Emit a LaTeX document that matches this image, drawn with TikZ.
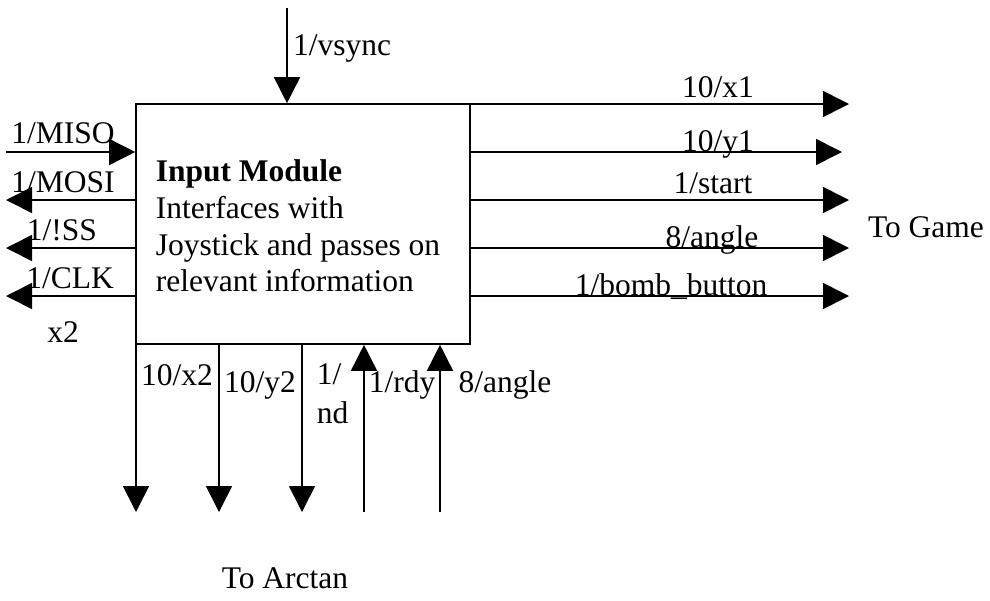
\documentclass[tikz,border=0pt]{standalone}
\usepackage{fontspec}
\setmainfont{Liberation Serif}
\usetikzlibrary{arrows.meta}
\begin{document}
\begin{tikzpicture}[x=0.5pt,y=-0.5pt,line width=0.8pt,
  sig/.style={-{Triangle[length=13pt,width=13pt]}},
  lbl/.style={inner sep=0pt,anchor=base,font=\fontsize{15.75}{18}\selectfont},
  lblw/.style={lbl,anchor=base west}]
\useasboundingbox (0,0) rectangle (990,600);

% the module block
\node[draw,minimum width=167pt,minimum height=120pt,inner sep=0pt] (box) at (303,224) {};
\node[lblw,font=\fontsize{15.75}{18}\selectfont\bfseries] (l1) at (155,181) {Input Module};
\node[lblw] (l2) at (155,218) {Interfaces with};
\node[lblw] (l3) at (155,255) {Joystick and passes on};
\node[lblw] (l4) at (155,291) {relevant information};

% top input
\coordinate (vs) at (287,8);
\draw[sig] (vs) -- (vs |- box.north);
\node[lbl] (tvs) at (342,55) {1/vsync};

% SPI side (left)
\coordinate (miso) at (6,152);
\coordinate (mosi) at (6,200);
\coordinate (ss) at (6,248);
\coordinate (clk) at (6,296);
\draw[sig] (miso) -- (miso -| box.west);
\draw[sig] (mosi -| box.west) -- (mosi);
\draw[sig] (ss -| box.west) -- (ss);
\draw[sig] (clk -| box.west) -- (clk);
\node[lbl] (tmiso) at (63,143) {1/MISO};
\node[lbl] (tmosi) at (63,192) {1/MOSI};
\node[lbl] (tss) at (62,240) {1/!SS};
\node[lbl] (tclk) at (70,288) {1/CLK};
\node[lbl] (tx2) at (63,342) {x2};

% outputs to the game (right)
\coordinate (ox) at (849,104);
\coordinate (oy) at (842,152);
\coordinate (ost) at (849,200);
\coordinate (oan) at (849,248);
\coordinate (obb) at (849,296);
\draw[sig] (ox -| box.east) -- (ox);
\draw[sig] (oy -| box.east) -- (oy);
\draw[sig] (ost -| box.east) -- (ost);
\draw[sig] (oan -| box.east) -- (oan);
\draw[sig] (obb -| box.east) -- (obb);
\node[lbl] (tox) at (718,97) {10/x1};
\node[lbl] (toy) at (718,151) {10/y1};
\node[lbl] (tost) at (713,193) {1/start};
\node[lbl] (toan) at (712,247) {8/angle};
\node[lbl] (tobb) at (671,295) {1/bomb\_button};
\node[lbl] (game) at (926,237) {To Game};

% arctan interface (bottom)
\coordinate (bx) at (136,512);
\coordinate (by) at (219,512);
\coordinate (bnd) at (302,512);
\coordinate (brdy) at (364,512);
\coordinate (bang) at (440,512);
\draw[sig] (bx |- box.south) -- (bx);
\draw[sig] (by |- box.south) -- (by);
\draw[sig] (bnd |- box.south) -- (bnd);
\draw[sig] (brdy) -- (brdy |- box.south);
\draw[sig] (bang) -- (bang |- box.south);
\node[lbl] (tbx) at (177,385) {10/x2};
\node[lbl] (tby) at (260,392) {10/y2};
\node[lblw] (tnd1) at (316,384) {1/};
\node[lblw] (tnd2) at (316,423) {nd};
\node[lbl] (trdy) at (402,392) {1/rdy};
\node[lbl] (tang) at (505,392) {8/angle};
\node[lbl] (arctan) at (285,588) {To Arctan};
\end{tikzpicture}
\end{document}
